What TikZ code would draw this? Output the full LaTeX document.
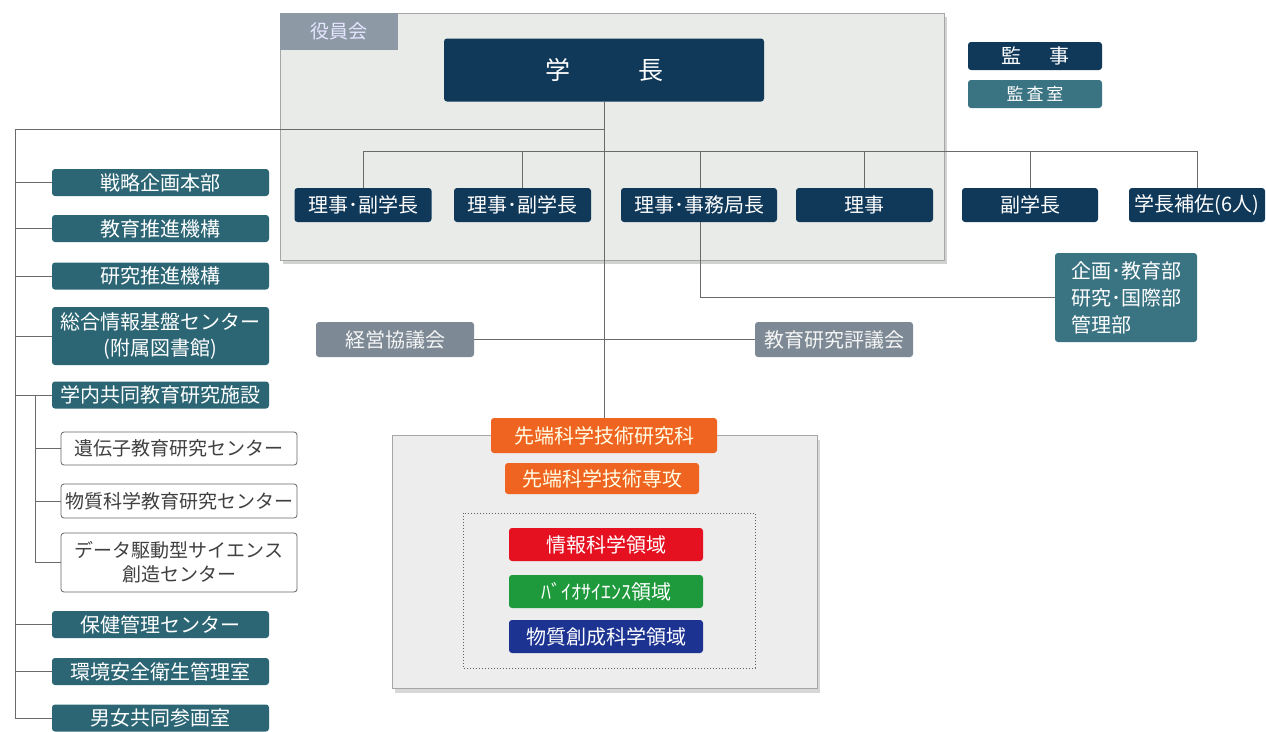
\documentclass[tikz,border=0pt]{standalone}
\usepackage{fontspec}
\setmainfont{Noto Sans CJK JP}
\usetikzlibrary{shadows}
\definecolor{navy}{HTML}{0F3859}
\definecolor{teal2}{HTML}{2C6675}
\definecolor{teal3}{HTML}{3A7382}
\definecolor{grayb}{HTML}{7D8A95}
\definecolor{graytab}{HTML}{8D9AA6}
\definecolor{boardfill}{HTML}{E8EBE7}
\definecolor{framefill}{HTML}{EDEDED}
\definecolor{linec}{HTML}{6A6A6A}
\definecolor{orng}{HTML}{EE6420}
\definecolor{redb}{HTML}{E51020}
\definecolor{greenb}{HTML}{1E9A3C}
\definecolor{blueb}{HTML}{1C3392}
\pgfdeclarelayer{back}
\pgfdeclarelayer{bg}
\pgfsetlayers{back,bg,main}
\tikzset{
  boxbase/.style={rounded corners=3pt, inner sep=0pt, align=center, text=white},
  navybox/.style={boxbase, fill=navy, font=\fontsize{20}{24}\selectfont},
  tealbox/.style={boxbase, fill=teal2, minimum width=217pt, font=\fontsize{20}{26}\selectfont},
  graybox/.style={boxbase, fill=grayb, text=white!92!gray, minimum width=158pt, minimum height=35pt, font=\fontsize{20}{24}\selectfont},
  outbox/.style={boxbase, fill=white, draw=gray!80!black, line width=0.8pt, text=black!75, minimum width=236pt, font=\fontsize{19}{24}\selectfont},
  colbox/.style={boxbase, minimum width=194pt, minimum height=33pt, font=\fontsize{20}{24}\selectfont},
  conn/.style={draw=linec, line width=1pt},
}
\begin{document}
\begin{tikzpicture}[x=1pt,y=-1pt]
\useasboundingbox (0,0) rectangle (1266,731);

% board (役員会)
\begin{pgfonlayer}{back}
\fill[white] (0,0) rectangle (1266,731);
\fill[boardfill, draw=gray!70, line width=0.8pt, drop shadow={opacity=0.35, shadow xshift=3pt, shadow yshift=-4pt}] (280,13) rectangle (944,260);
\fill[framefill, draw=gray!70, line width=0.8pt, drop shadow={opacity=0.3, shadow xshift=3pt, shadow yshift=-5pt}] (392,435) rectangle (817,688);
\draw[gray!75!black, line width=1pt, dotted] (463,513) rectangle (755,668);
\end{pgfonlayer}
\node[boxbase, fill=graytab, text=white!90!blue, minimum width=118pt, minimum height=37pt, rounded corners=0pt, font=\fontsize{19}{22}\selectfont] (tab) at (339,31.5) {役員会};

% top
\node[boxbase, fill=navy, minimum width=320pt, minimum height=63pt, font=\fontsize{25}{28}\selectfont] (gakucho) at (604,70) {学\hspace{68pt}長};
\node[navybox, minimum width=134pt, minimum height=28pt] (kanji) at (1035,56) {監\hspace{28pt}事};
\node[boxbase, fill=teal3, minimum width=134pt, minimum height=28pt, font=\fontsize{17}{20}\selectfont] (kansa) at (1035,94) {監\,査\,室};

% row of executives
\node[navybox, minimum width=137pt, minimum height=34pt] (r1) at (363,205) {理事･副学長};
\node[navybox, minimum width=137pt, minimum height=34pt] (r2) at (522.5,205) {理事･副学長};
\node[navybox, minimum width=156pt, minimum height=34pt] (r3) at (699,205) {理事･事務局長};
\node[navybox, minimum width=137pt, minimum height=34pt] (r4) at (864.5,205) {理事};
\node[navybox, minimum width=136pt, minimum height=34pt] (r5) at (1030,205) {副学長};
\node[navybox, minimum width=136pt, minimum height=34pt] (r6) at (1197,205) {学長補佐(6人)};

\node[boxbase, fill=teal3, minimum width=142pt, minimum height=89pt, align=left, font=\fontsize{20}{27}\selectfont] (kikaku) at (1126,297.5) {企画･教育部\\研究･国際部\\管理部};

% councils
\node[graybox] (keiei) at (395,339.5) {経営協議会};
\node[graybox] (kyogi) at (834,339.5) {教育研究評議会};

% left column
\node[tealbox, minimum height=27pt] (senryaku) at (160.5,182.5) {戦略企画本部};
\node[tealbox, minimum height=27pt] (kyoiku) at (160.5,228.5) {教育推進機構};
\node[tealbox, minimum height=27pt] (kenkyu) at (160.5,276) {研究推進機構};
\node[tealbox, minimum height=58pt] (sogo) at (160.5,336) {総合情報基盤センター\\(附属図書館)};
\node[tealbox, minimum height=27pt] (gakunai) at (160.5,395) {学内共同教育研究施設};
\node[outbox, minimum height=33pt] (iden) at (179,448.5) {遺伝子教育研究センター};
\node[outbox, minimum height=34pt] (busshitsu) at (179,501) {物質科学教育研究センター};
\node[outbox, minimum height=59pt] (data) at (179,562.5) {データ駆動型サイエンス\\創造センター};
\node[tealbox, minimum height=27pt] (hoken) at (160.5,624.5) {保健管理センター};
\node[tealbox, minimum height=27pt] (kankyo) at (160.5,671.5) {環境安全衛生管理室};
\node[tealbox, minimum height=27pt] (danjo) at (160.5,718) {男女共同参画室};

% graduate school
\node[colbox, fill=orng, text=white!90!yellow, minimum width=226pt, minimum height=35pt] (kenkyuka) at (604,435.5) {先端科学技術研究科};
\node[colbox, fill=orng, text=white!90!yellow, minimum height=31pt] (senko) at (602,478.5) {先端科学技術専攻};
\node[colbox, fill=redb] (joho) at (606,544.5) {情報科学領域};
\node[colbox, fill=greenb] (bio) at (606,591.5) {ﾊﾞｲｵｻｲｴﾝｽ領域};
\node[colbox, fill=blueb] (sosei) at (606,636.5) {物質創成科学領域};

% junction coordinates
\coordinate (lt) at (15,129);
\coordinate (lb) at (15,718);
\coordinate (hl) at (363,151);
\coordinate (hr) at (1197,151);
\coordinate (d3) at (700,151);
\coordinate (s0) at (35,395);

\begin{pgfonlayer}{bg}
\draw[conn] (gakucho.south) -- (kenkyuka.north);
\draw[conn] (lt) -- (gakucho.south |- lt);
\draw[conn] (lt) -- (lb);
\draw[conn] (r1.north) -- (hl) -- (hr) -- (r6.north);
\draw[conn] (r2.north) -- (r2.north |- hl);
\draw[conn] (r4.north) -- (r4.north |- hl);
\draw[conn] (r5.north) -- (r5.north |- hl);
\draw[conn] (d3) |- (kikaku.west);
\draw[conn] (keiei.east) -- (kyogi.west);
\foreach \n in {senryaku,kyoiku,kenkyu,sogo,gakunai,hoken,kankyo,danjo}
  \draw[conn] (\n.west) -- (\n.west -| lt);
\draw[conn] (s0) |- (data.west);
\draw[conn] (iden.west) -- (iden.west -| s0);
\draw[conn] (busshitsu.west) -- (busshitsu.west -| s0);
\end{pgfonlayer}
\end{tikzpicture}
\end{document}
